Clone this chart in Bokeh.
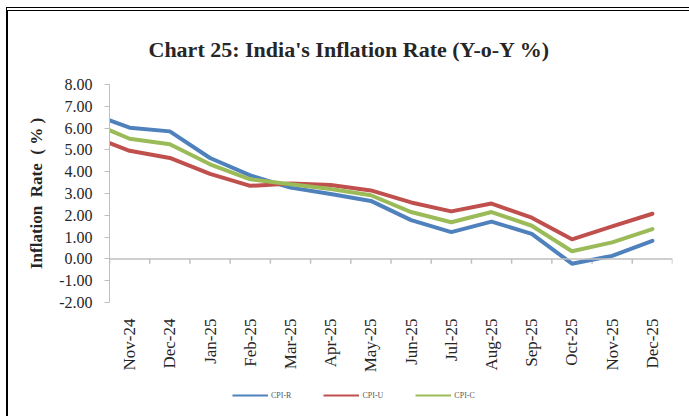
from math import pi
from bokeh.plotting import figure
from bokeh.layouts import column
from bokeh.models import (Range1d, FixedTicker, Legend, LegendItem,
                          NumeralTickFormatter, Span)
from bokeh.embed import file_html
from bokeh.resources import INLINE

# ---- data ----
months = ["Oct-24", "Nov-24", "Dec-24", "Jan-25", "Feb-25", "Mar-25", "Apr-25",
          "May-25", "Jun-25", "Jul-25", "Aug-25", "Sep-25", "Oct-25", "Nov-25", "Dec-25"]
cpi_r = [6.70, 6.02, 5.85, 4.63, 3.83, 3.27, 2.98, 2.66, 1.78, 1.23, 1.71, 1.15, -0.22, 0.14, 0.83]
cpi_u = [5.66, 4.96, 4.63, 3.90, 3.35, 3.46, 3.39, 3.14, 2.59, 2.18, 2.54, 1.89, 0.90, 1.49, 2.07]
cpi_c = [6.30, 5.51, 5.26, 4.34, 3.65, 3.42, 3.21, 2.92, 2.15, 1.68, 2.15, 1.52, 0.35, 0.76, 1.37]
series_names = ["CPI-R", "CPI-U", "CPI-C"]
y_ticks = [-2, -1, 0, 1, 2, 3, 4, 5, 6, 7, 8]

x = [i - 1 for i in range(len(months))]          # Oct-24 sits just left of the visible range
shown = months[1:]

colors = ["#4F81BD", "#C0504D", "#9BBB59"]
GRAY = "#BFBFBF"
TXT = "#262626"
FONT = "Liberation Serif"

p = figure(width=681, height=367, output_backend="svg", toolbar_location=None,
           x_range=Range1d(-0.5, len(shown) - 0.5), y_range=Range1d(-2, 8),
           x_axis_location="below", y_axis_location="left",
           min_border_left=101, min_border_right=17, min_border_top=64, min_border_bottom=76)
p.grid.visible = False
p.outline_line_color = None

# title
p.title.text = "Chart 25: India's Inflation Rate (Y-o-Y %)"
p.title.text_font = FONT
p.title.text_font_style = "bold"
p.title.text_font_size = "22px"
p.title.text_color = TXT
p.title.align = "left"
p.title.offset = 39
try:
    p.title.standoff = 46
except Exception:
    pass

# y axis
ya = p.yaxis[0]
ya.ticker = FixedTicker(ticks=y_ticks)
ya.formatter = NumeralTickFormatter(format="0.00")
ya.axis_label = "Inflation\u00a0\u00a0Rate\u00a0\u00a0(\u00a0%\u00a0)"
ya.axis_label_text_font = FONT
ya.axis_label_text_font_style = "bold"
ya.axis_label_text_font_size = "17px"
ya.axis_label_text_color = TXT
ya.axis_label_standoff = 10
ya.major_label_text_font = FONT
ya.major_label_text_font_size = "16px"
ya.major_label_text_color = TXT
ya.major_label_standoff = 12
ya.axis_line_color = GRAY
ya.major_tick_line_color = GRAY
ya.major_tick_in = 0
ya.major_tick_out = 5
ya.minor_tick_line_color = None

# category labels at the bottom
xa = p.xaxis[0]
xa.ticker = FixedTicker(ticks=list(range(len(shown))))
xa.major_label_overrides = {i: m for i, m in enumerate(shown)}
xa.major_label_orientation = pi / 2
xa.major_label_standoff = 10
xa.major_label_text_font = FONT
xa.major_label_text_font_size = "17px"
xa.major_label_text_color = TXT
xa.axis_line_color = None
xa.major_tick_line_color = None
xa.minor_tick_line_color = None

# zero line with category-boundary tick marks
p.add_layout(Span(location=0, dimension="width", line_color=GRAY, line_width=1.5))
bounds = [k - 0.5 for k in range(len(shown) + 1)]
p.segment(x0=bounds, x1=bounds, y0=[0] * len(bounds), y1=[-0.22] * len(bounds),
          line_color=GRAY, line_width=1.5)

for vals, c in zip([cpi_r, cpi_u, cpi_c], colors):
    p.line(x, vals, line_width=4, color=c, line_join="round", line_cap="round")

# legend in a strip below the chart (its renderers hold the series but lie outside its view)
lg = figure(width=681, height=38, output_backend="svg", toolbar_location=None,
            x_range=Range1d(100, 101), y_range=Range1d(100, 101),
            x_axis_location=None, y_axis_location=None, min_border=0)
lg.grid.visible = False
lg.outline_line_color = None
items = []
for name, vals, c in zip(series_names, [cpi_r, cpi_u, cpi_c], colors):
    proxy = lg.line(x, vals, line_width=2, color=c)
    items.append(LegendItem(label=name, renderers=[proxy]))
legend = Legend(items=items, orientation="horizontal", location=(123, 16),
                glyph_width=36, glyph_height=10, label_height=10, label_standoff=3,
                spacing=32, padding=0, margin=0, border_line_color=None,
                background_fill_alpha=0, label_text_font=FONT,
                label_text_font_size="8px", label_text_color="#595959")
lg.add_layout(legend, "center")

layout = column(p, lg, spacing=0,
                styles={"margin-left": "6px", "margin-top": "7px",
                        "border-top": "4px double black", "border-left": "2px solid black"})

open("out.html", "w").write(file_html(layout, INLINE))
